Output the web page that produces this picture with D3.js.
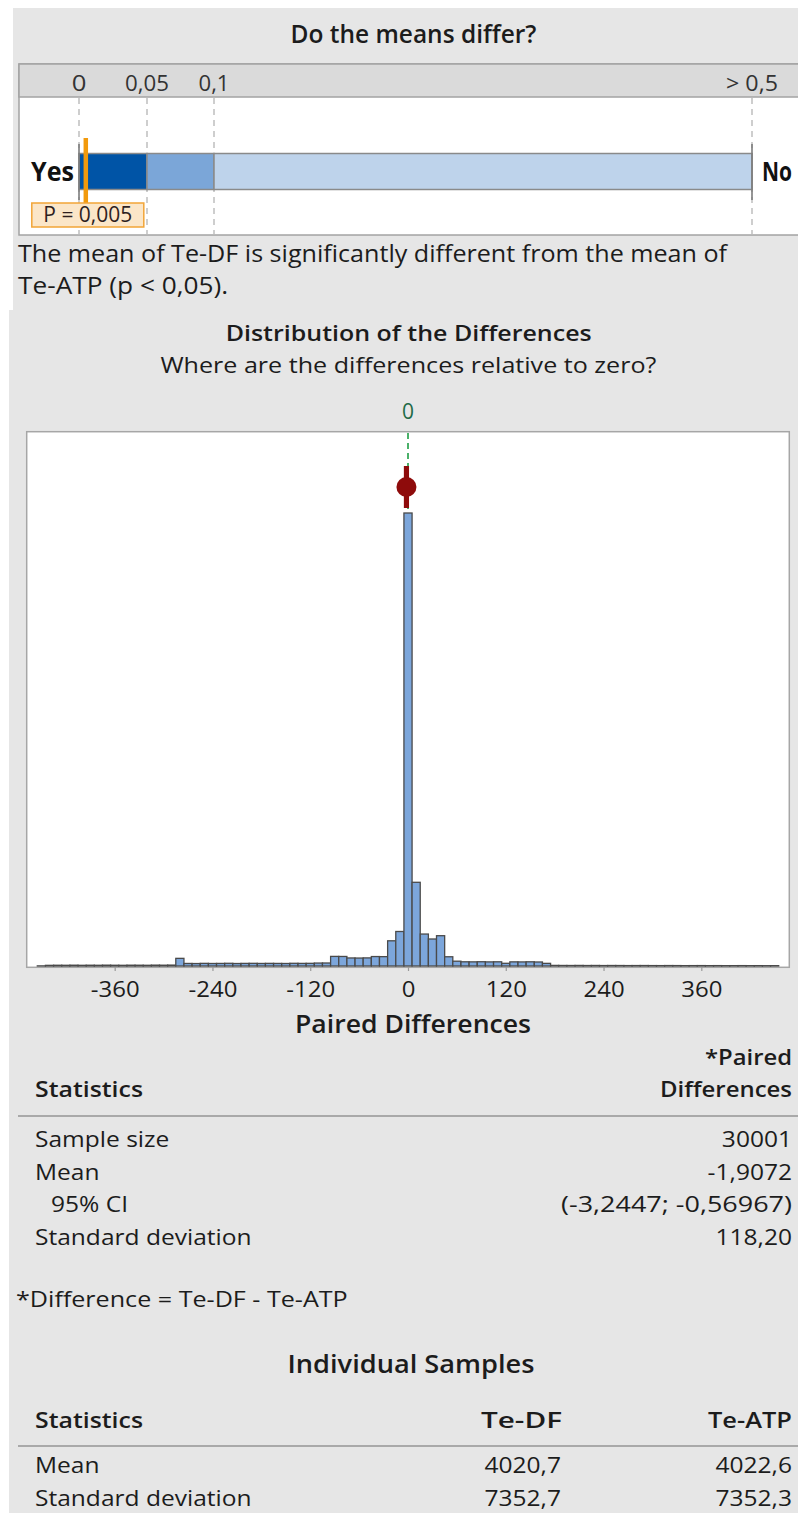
<!DOCTYPE html>
<html>
<head>
<meta charset="utf-8">
<script src="https://cdn.jsdelivr.net/npm/d3@7"></script>
<style>
  html, body { margin: 0; padding: 0; background: #ffffff; }
  svg { display: block; font-family: "Open Sans", "Noto Sans", sans-serif; }
</style>
</head>
<body>
<svg id="chart" width="798" height="1513"></svg>
<script>
// ---- data ----
const pTicks = [0, 0.05, 0.1, 0.5];
const pTickLabels = ["0", "0,05", "0,1", "> 0,5"];
const pValue = 0.005;
const sampleNames = ["Te-DF", "Te-ATP"];

// histogram of paired differences: bins of width 10 starting at -455
const binStart = -455;
const binWidth = 10;
const binCounts = [
  4,
  22, 25, 24, 27, 23, 26, 24, 28, 25, 23, 27, 26, 24, 29, 27, 30,
  255,
  85, 82, 88, 84, 86, 90, 83, 87, 89, 85, 88, 86, 84, 90, 87, 89, 98, 100,
  320, 318, 268, 265, 270, 315, 312, 840, 1150, 15100, 2790, 1065, 900, 1010, 308,
  160, 140, 138, 142, 137, 140,
  90,
  138, 136, 140, 134,
  88,
  20, 18, 17, 19, 16, 18, 15, 17, 16, 14, 15, 16, 14, 13, 15, 14, 12, 13, 14, 12, 13, 11, 12, 13, 11, 12, 10, 11
];
const xTicks = [-360, -240, -120, 0, 120, 240, 360];

const pairedLabels = ["Sample size", "Mean", "95% CI", "Standard deviation"];
const sampleSize = 30001;
const meanDiff = -1.9072;
const ciLow = -3.2447;
const ciHigh = -0.56967;
const sdDiff = 118.20;

const individualLabels = ["Mean", "Standard deviation"];
const teDFStats = [4020.7, 7352.7];
const teATPStats = [4022.6, 7352.3];

// ---- helpers ----
const locale = d3.formatLocale({ decimal: ",", thousands: "", grouping: [3], currency: ["", ""], minus: "-" });
const fmt5 = locale.format(".5");
const fmt2 = locale.format(".2f");
const fmt1 = locale.format(".1f");

const svg = d3.select("#chart");
const INK = "#1c1c1c";
let squeeze = 0.9;

function label(parent, str, x, y, o = {}) {
  const t = parent.append("text")
    .attr("x", x).attr("y", y)
    .attr("font-size", o.size || 21)
    .attr("font-weight", o.weight || 400)
    .attr("text-anchor", o.anchor || "start")
    .attr("fill", o.fill || INK)
    .text(str);
  const natural = t.node().getComputedTextLength();
  const w = o.w || natural * squeeze;
  t.attr("textLength", w).attr("lengthAdjust", "spacingAndGlyphs");
  return t;
}

// ---- backgrounds ----
svg.append("rect").attr("x", 13).attr("y", 8).attr("width", 785).attr("height", 302).attr("fill", "#e6e6e6");
svg.append("rect").attr("x", 9).attr("y", 310).attr("width", 789).attr("height", 1203).attr("fill", "#e6e6e6");

// horizontal squeeze shared by the running text
{
  const probe = svg.append("text").attr("font-size", 22).text("The mean of Te-DF is significantly different from the mean of");
  squeeze = 709 / probe.node().getComputedTextLength();
  probe.remove();
}

// ---- "Do the means differ?" ----
label(svg, "Do the means differ?", 413.5, 42.5, { size: 25.5, weight: 600, anchor: "middle", w: 246 });

const pScale = d3.scaleLinear().domain(pTicks).range([79, 147, 214, 752]);
const gauge = svg.append("g");
gauge.append("rect").attr("x", 19).attr("y", 64).attr("width", 782).attr("height", 171)
  .attr("fill", "#ffffff").attr("stroke", "#a3a3a3").attr("stroke-width", 1.5);
gauge.append("rect").attr("x", 19).attr("y", 64).attr("width", 782).attr("height", 33)
  .attr("fill", "#dadada").attr("stroke", "#a3a3a3").attr("stroke-width", 1.5);

gauge.selectAll("line.pgrid").data(pTicks).join("line").attr("class", "pgrid")
  .attr("x1", d => pScale(d)).attr("x2", d => pScale(d))
  .attr("y1", 98).attr("y2", 234)
  .attr("stroke", "#b4b4b4").attr("stroke-width", 1.3).attr("stroke-dasharray", "6,5");

const tickWidths = [null, 44, 31, 52];
pTicks.forEach((d, i) => {
  label(gauge, pTickLabels[i], pScale(d), 90.5, { size: 22.5, anchor: "middle", fill: "#333", w: tickWidths[i] || undefined });
});

const bandFills = ["#0054a6", "#7ba6d8", "#bed3eb"];
gauge.selectAll("rect.band").data(d3.pairs(pTicks)).join("rect").attr("class", "band")
  .attr("x", d => pScale(d[0])).attr("width", d => pScale(d[1]) - pScale(d[0]))
  .attr("y", 153.5).attr("height", 36)
  .attr("fill", (d, i) => bandFills[i])
  .attr("stroke", "#8a8a8a").attr("stroke-width", 1.5);

[pTicks[0], pTicks[pTicks.length - 1]].forEach(d => {
  gauge.append("line").attr("x1", pScale(d)).attr("x2", pScale(d)).attr("y1", 144).attr("y2", 200)
    .attr("stroke", "#7c7c7c").attr("stroke-width", 1.6);
});

label(gauge, "Yes", 74, 180.5, { size: 27, weight: 700, anchor: "end", w: 43, fill: "#111" });
label(gauge, "No", 762, 180.5, { size: 26, weight: 700, w: 30, fill: "#111" });

// p-value marker
const px = pScale(pValue);
gauge.append("line").attr("x1", px).attr("x2", px).attr("y1", 138).attr("y2", 203)
  .attr("stroke", "#f29a0c").attr("stroke-width", 4.5);
gauge.append("rect").attr("x", px - 54).attr("y", 203).attr("width", 112).attr("height", 24)
  .attr("fill", "#fbe6c8").attr("stroke", "#f2a537").attr("stroke-width", 1.5);
label(gauge, "P = " + locale.format(".3f")(pValue), px + 2, 222, { size: 22, anchor: "middle", w: 89, fill: "#2e1f1f" });

// ---- conclusion text ----
label(svg, "The mean of Te-DF is significantly different from the mean of", 18, 262, { size: 23, w: 709 });
label(svg, "Te-ATP (p < 0,05).", 18, 293.5, { size: 23 });

// ---- distribution of differences ----
label(svg, "Distribution of the Differences", 408.7, 340.5, { size: 21.5, weight: 600, anchor: "middle", w: 366 });
label(svg, "Where are the differences relative to zero?", 408.4, 373.3, { size: 22, anchor: "middle", w: 496 });

const xScale = d3.scaleLinear().domain([-468, 468]).range([26.7, 789.3]);
const yScale = d3.scaleLinear().domain([0, 17800]).range([966, 432]);

const hist = svg.append("g");
hist.append("rect").attr("x", 26.7).attr("y", 431.7).attr("width", 762.6).attr("height", 535.6)
  .attr("fill", "#ffffff").attr("stroke", "#a6a6a6").attr("stroke-width", 1.5);

label(svg, "0", xScale(0), 419.3, { size: 22, anchor: "middle", fill: "#1f6b47", w: 12 });

const bins = binCounts.map((c, i) => ({ x0: binStart + i * binWidth, x1: binStart + (i + 1) * binWidth, n: c }));
hist.selectAll("rect.bar").data(bins).join("rect").attr("class", "bar")
  .attr("x", d => xScale(d.x0)).attr("width", d => xScale(d.x1) - xScale(d.x0))
  .attr("y", d => yScale(d.n)).attr("height", d => yScale(0) - yScale(d.n))
  .attr("fill", "#7ca6db").attr("stroke", "#4a4a4a").attr("stroke-width", 1.3);

// reference line at zero
hist.append("line").attr("x1", xScale(0)).attr("x2", xScale(0))
  .attr("y1", 433).attr("y2", yScale(d3.max(binCounts)))
  .attr("stroke", "#1e9e45").attr("stroke-width", 1.6).attr("stroke-dasharray", "6,4");

// mean with 95% CI
const ciY = 487;
hist.append("line").attr("x1", xScale(ciLow)).attr("x2", xScale(ciHigh)).attr("y1", ciY).attr("y2", ciY)
  .attr("stroke", "#8e0b0b").attr("stroke-width", 3);
[ciLow, ciHigh].forEach(v => {
  hist.append("line").attr("x1", xScale(v)).attr("x2", xScale(v)).attr("y1", ciY - 21).attr("y2", ciY + 21)
    .attr("stroke", "#8e0b0b").attr("stroke-width", 3);
});
hist.append("circle").attr("cx", xScale(meanDiff)).attr("cy", ciY).attr("r", 10).attr("fill", "#8e0b0b");

// x axis
const axis = svg.append("g").attr("transform", "translate(0,967)")
  .call(d3.axisBottom(xScale).tickValues(xTicks).tickSize(4).tickFormat(d => String(d)));
axis.attr("font-family", null).attr("font-size", null);
axis.select(".domain").remove();
axis.selectAll(".tick line").attr("stroke", "#9a9a9a").attr("stroke-width", 1.2);
axis.selectAll(".tick text").each(function () {
  const t = d3.select(this);
  t.attr("y", 29.7).attr("dy", null).attr("font-size", 21).attr("fill", INK);
  const w = this.getComputedTextLength();
  t.attr("textLength", w * squeeze).attr("lengthAdjust", "spacingAndGlyphs");
});

label(svg, "Paired Differences", 413, 1032.5, { size: 26, weight: 600, anchor: "middle", w: 236 });

// ---- paired differences table ----
const L = 35, R = 792;
label(svg, "*Paired", R, 1065, { size: 22, weight: 600, anchor: "end", w: 87 });
label(svg, "Statistics", L, 1096.7, { size: 22, weight: 600, w: 108 });
label(svg, "Differences", R, 1096.7, { size: 22, weight: 600, anchor: "end", w: 132 });
svg.append("line").attr("x1", 18).attr("x2", 798).attr("y1", 1116).attr("y2", 1116)
  .attr("stroke", "#a9a9a9").attr("stroke-width", 2);

const pairedValues = [
  String(sampleSize),
  fmt5(meanDiff),
  "(" + fmt5(ciLow) + "; " + fmt5(ciHigh) + ")",
  fmt2(sdDiff)
];
pairedLabels.forEach((name, i) => {
  const y = 1147 + i * 32.7;
  label(svg, name, name === "95% CI" ? 51 : L, y, { size: 21.5 });
  label(svg, pairedValues[i], R, y, { size: 21.5, anchor: "end", w: i === 2 ? 231 : undefined });
});

label(svg, "*Difference = " + sampleNames[0] + " - " + sampleNames[1], 16, 1306.7, { size: 22 });

// ---- individual samples table ----
label(svg, "Individual Samples", 411, 1373.3, { size: 25, weight: 600, anchor: "middle", w: 247 });
label(svg, "Statistics", L, 1428.3, { size: 22, weight: 600, w: 108 });
label(svg, sampleNames[0], 562, 1428.3, { size: 22, weight: 600, anchor: "end", w: 81 });
label(svg, sampleNames[1], R, 1428.3, { size: 22, weight: 600, anchor: "end", w: 84 });
svg.append("line").attr("x1", 18).attr("x2", 798).attr("y1", 1446).attr("y2", 1446)
  .attr("stroke", "#a9a9a9").attr("stroke-width", 2);
individualLabels.forEach((name, i) => {
  const y = 1473.3 + i * 32.2;
  label(svg, name, L, y, { size: 21.5 });
  label(svg, fmt1(teDFStats[i]), 561, y, { size: 21.5, anchor: "end" });
  label(svg, fmt1(teATPStats[i]), R, y, { size: 21.5, anchor: "end" });
});
</script>
</body>
</html>
